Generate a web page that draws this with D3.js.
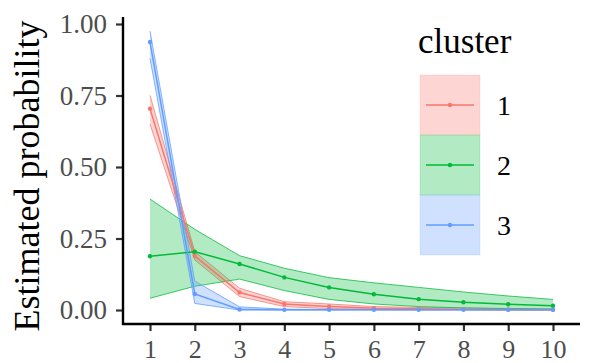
<!DOCTYPE html>
<html><head><meta charset="utf-8">
<script src="https://cdn.jsdelivr.net/npm/d3@7"></script>
<style>
body{margin:0;background:#fff}
svg{display:block;font-family:"Liberation Serif",serif}
</style>
</head><body>
<svg id="c" width="598" height="363" font-family="Liberation Serif"></svg>
<script>
const xValues = [1,2,3,4,5,6,7,8,9,10];
const clusters = ["1","2","3"];
const colors = ["#F8766D","#00BA38","#619CFF"];
const est1 = [0.704,0.189,0.061,0.021,0.012,0.006,0.004,0.003,0.002,0.001];
const lo1  = [0.650,0.175,0.047,0.012,0.005,0.002,0.001,0.001,0.000,0.000];
const hi1  = [0.750,0.204,0.076,0.029,0.021,0.012,0.009,0.007,0.005,0.004];
const est2 = [0.188,0.204,0.161,0.114,0.079,0.055,0.038,0.027,0.020,0.015];
const lo2  = [0.041,0.083,0.108,0.068,0.037,0.021,0.012,0.007,0.005,0.002];
const hi2  = [0.388,0.282,0.190,0.146,0.113,0.095,0.079,0.063,0.049,0.037];
const est3 = [0.937,0.056,0.002,0.001,0.001,0.001,0.001,0.001,0.001,0.001];
const lo3  = [0.880,0.023,0.000,0.000,0.000,0.000,0.000,0.000,0.000,0.000];
const hi3  = [0.975,0.101,0.011,0.003,0.002,0.002,0.002,0.002,0.002,0.002];
const yTicks = [0,0.25,0.5,0.75,1];

const series = [
  {name:clusters[0], color:colors[0], est:est1, lo:lo1, hi:hi1},
  {name:clusters[1], color:colors[1], est:est2, lo:lo2, hi:hi2},
  {name:clusters[2], color:colors[2], est:est3, lo:lo3, hi:hi3}
];

const svg = d3.select("#c");
const x = d3.scaleLinear().domain([1,10]).range([150,553]);
const y = d3.scaleLinear().domain([0,1]).range([310,24]);
const FONT = "Liberation Serif";

const area = d3.area().x((d,i)=>x(xValues[i])).y0(d=>y(d[0])).y1(d=>y(d[1]));
const lineGen = d3.line().x((d,i)=>x(xValues[i])).y(d=>y(d));
series.forEach(s=>{
  const data = s.lo.map((v,i)=>[v,s.hi[i]]);
  svg.append("path").attr("d",area(data)).attr("fill",s.color).attr("fill-opacity",0.3);
  svg.append("path").attr("d",lineGen(s.lo)).attr("fill","none").attr("stroke",s.color).attr("stroke-width",0.9).attr("stroke-opacity",0.85);
  svg.append("path").attr("d",lineGen(s.hi)).attr("fill","none").attr("stroke",s.color).attr("stroke-width",0.9).attr("stroke-opacity",0.85);
});
series.forEach(s=>{
  svg.append("path").attr("d",lineGen(s.est)).attr("fill","none").attr("stroke",s.color).attr("stroke-width",1.5);
});
series.forEach(s=>{
  svg.selectAll(null).data(s.est).enter().append("circle")
    .attr("cx",(d,i)=>x(xValues[i])).attr("cy",d=>y(d)).attr("r",2.2).attr("fill",s.color);
});

const yAxis = svg.append("g").attr("transform","translate(123,0)")
  .call(d3.axisLeft(y).tickValues(yTicks).tickFormat(d3.format(".2f")).tickSize(7).tickPadding(9));
const xAxis = svg.append("g").attr("transform","translate(0,324)")
  .call(d3.axisBottom(x).tickValues(xValues).tickFormat(d3.format("d")).tickSize(7).tickPadding(9));
yAxis.attr("font-family",FONT).attr("font-size",27);
xAxis.attr("font-family",FONT).attr("font-size",26);
[yAxis,xAxis].forEach(g=>{
  g.select(".domain").remove();
  g.selectAll(".tick line").attr("stroke","#333").attr("stroke-width",2.2);
  g.selectAll(".tick text").attr("fill","#4D4D4D").attr("font-family",FONT);
});
svg.append("line").attr("x1",123).attr("x2",123).attr("y1",17).attr("y2",325).attr("stroke","#000").attr("stroke-width",2.4);
svg.append("line").attr("x1",122).attr("x2",580).attr("y1",324).attr("y2",324).attr("stroke","#000").attr("stroke-width",2.4);

svg.append("text").attr("transform","translate(39,176) rotate(-90)").attr("text-anchor","middle")
  .attr("font-family",FONT).attr("font-size",36).attr("fill","#000").text("Estimated probability");

svg.append("text").attr("x",418).attr("y",53).attr("font-family",FONT).attr("font-size",35).text("cluster");
series.forEach((s,i)=>{
  const top = 75 + i*60;
  svg.append("rect").attr("x",420).attr("y",top).attr("width",60).attr("height",60)
    .attr("fill",s.color).attr("fill-opacity",0.3).attr("stroke",s.color).attr("stroke-opacity",0.15);
  svg.append("line").attr("x1",426).attr("x2",474).attr("y1",top+30).attr("y2",top+30).attr("stroke",s.color).attr("stroke-width",1.5);
  svg.append("circle").attr("cx",450).attr("cy",top+30).attr("r",2.2).attr("fill",s.color);
  svg.append("text").attr("x",497).attr("y",top+40).attr("font-family",FONT).attr("font-size",28).text(s.name);
});
</script>
</body></html>
